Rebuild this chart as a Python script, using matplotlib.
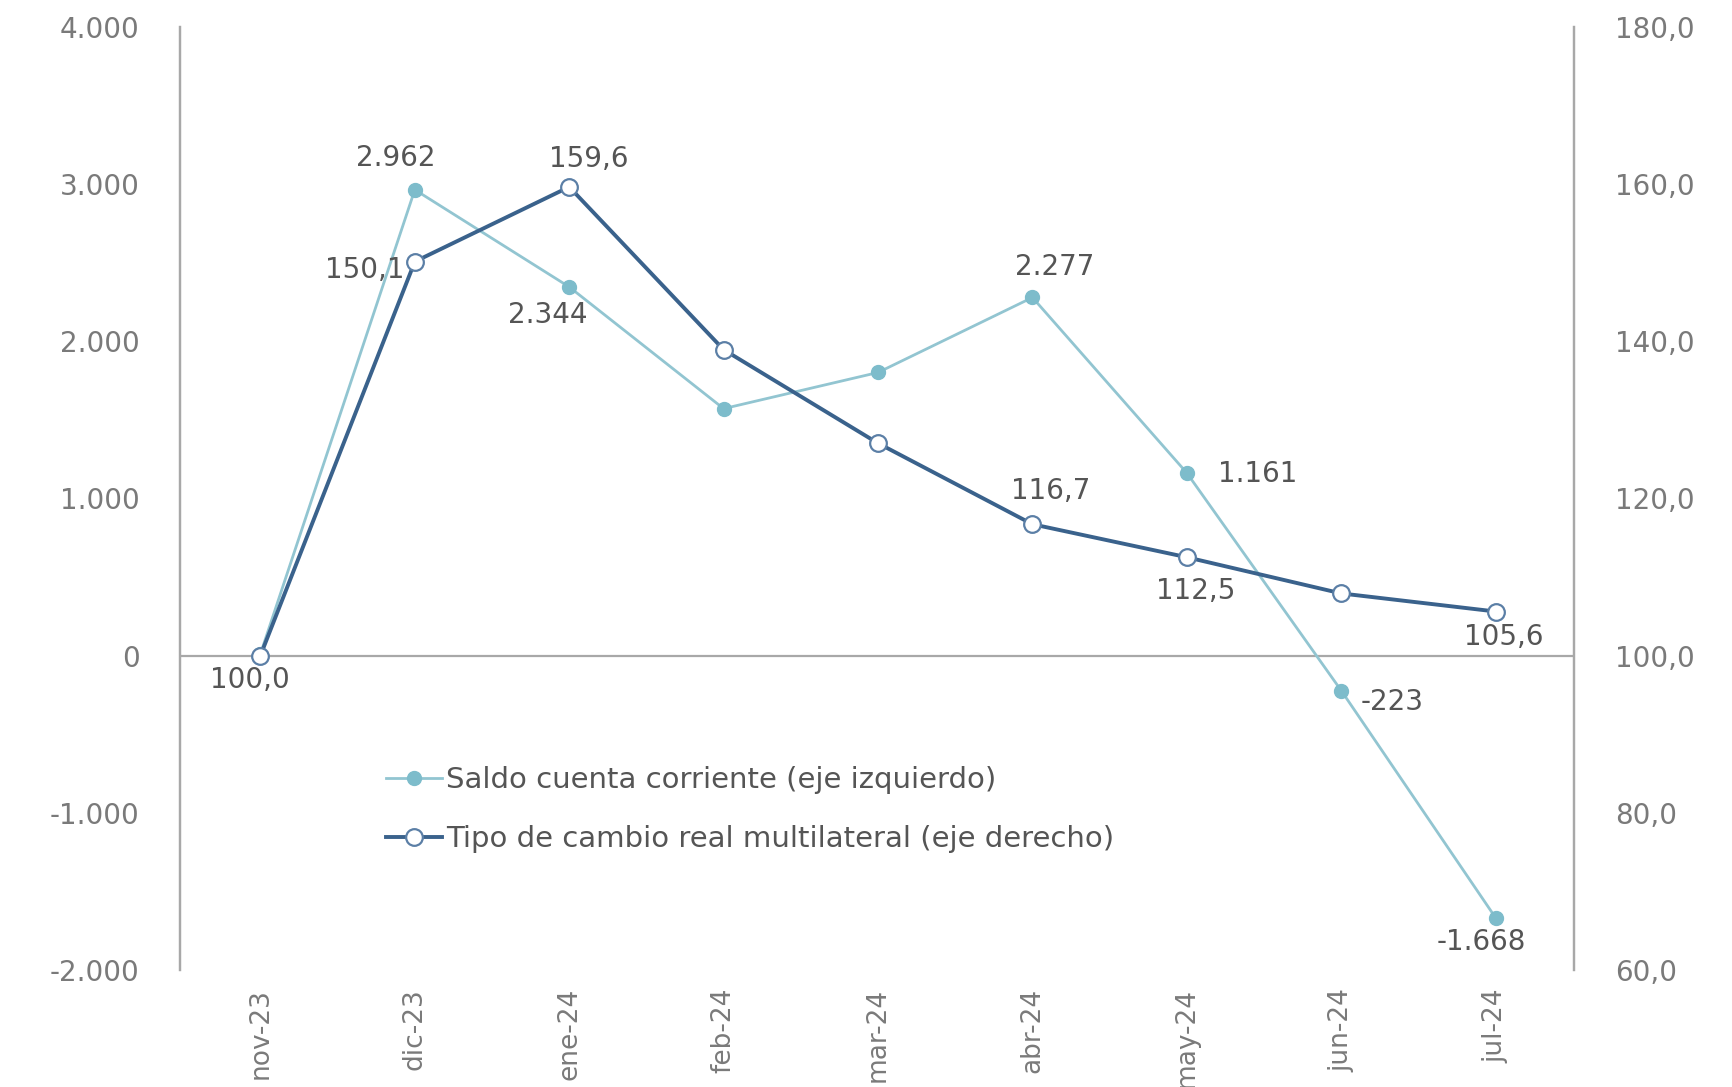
import matplotlib
matplotlib.use("Agg")
import matplotlib.pyplot as plt
from matplotlib.ticker import FuncFormatter, FixedLocator

# ---- data ----
months = ["nov-23", "dic-23", "ene-24", "feb-24", "mar-24", "abr-24", "may-24", "jun-24", "jul-24"]
saldo = [10, 2962, 2344, 1570, 1800, 2277, 1161, -223, -1668]
tcrm = [100.0, 150.1, 159.6, 138.9, 127.0, 116.7, 112.5, 107.9, 105.6]
saldo_label_idx = [1, 2, 5, 6, 7, 8]
tcrm_label_idx = [0, 1, 2, 5, 6, 8]
left_ticks = [-2000, -1000, 0, 1000, 2000, 3000, 4000]
right_ticks = [60, 80, 100, 120, 140, 160, 180]
saldo_name = "Saldo cuenta corriente (eje izquierdo)"
tcrm_name = "Tipo de cambio real multilateral (eje derecho)"

# ---- style ----
plt.rcParams["font.family"] = ["DejaVu Sans"]
FS = 20
TICK_COL = "#7a7a7a"
LAB_COL = "#555555"
AX_COL = "#a8a8a8"
SALDO_LINE = "#92c5d1"
SALDO_MK = "#7dbccb"
TCRM_LINE = "#3a628c"
TCRM_MK_EDGE = "#5b7fa6"

fig = plt.figure(figsize=(17.32, 10.87), dpi=100)
ax = fig.add_axes([0.104, 0.1076, 0.805, 0.868])
ax2 = ax.twinx()

x = list(range(len(months)))

l1, = ax.plot(x, saldo, color=SALDO_LINE, lw=2.0, marker="o", ms=10,
              mfc=SALDO_MK, mec=SALDO_MK, zorder=3, label=saldo_name)
l2, = ax2.plot(x, tcrm, color=TCRM_LINE, lw=2.8, marker="o", ms=12,
               mfc="white", mec=TCRM_MK_EDGE, mew=1.6, zorder=4, label=tcrm_name)

ax.set_xlim(-0.52, len(months) - 0.49)
ax.set_ylim(-2000, 4000)
ax2.set_ylim(60, 180)

ax.yaxis.set_major_locator(FixedLocator(left_ticks))
ax2.yaxis.set_major_locator(FixedLocator(right_ticks))
ax.yaxis.set_major_formatter(FuncFormatter(lambda v, p: f"{v:,.0f}".replace(",", ".")))
ax2.yaxis.set_major_formatter(FuncFormatter(lambda v, p: f"{v:.1f}".replace(".", ",")))

ax.set_xticks(x)
ax.set_xticklabels(months, rotation=90, fontsize=FS - 1, color=TICK_COL)
ax.tick_params(axis="x", length=0, pad=13)
ax.tick_params(axis="y", length=0, pad=29, labelsize=FS, labelcolor=TICK_COL)
ax2.tick_params(axis="y", length=0, pad=29, labelsize=FS, labelcolor=TICK_COL)

for a in (ax, ax2):
    a.spines["top"].set_visible(False)
    a.spines["bottom"].set_visible(False)
    a.spines["left"].set_color(AX_COL)
    a.spines["right"].set_color(AX_COL)
    a.spines["left"].set_linewidth(1.6)
    a.spines["right"].set_linewidth(1.6)
    a.patch.set_visible(False)

ax.axhline(0, color=AX_COL, lw=1.6, zorder=1)

# ---- data labels ----
def fmt_saldo(v):
    return f"{v:,.0f}".replace(",", ".")

def fmt_tcrm(v):
    return f"{v:.1f}".replace(".", ",")

saldo_offsets = {1: (-19, 32, "center"), 2: (-21, -28, "center"), 5: (22, 30, "center"),
                 6: (31, -1, "left"), 7: (19, -11, "left"), 8: (-14, -24, "center")}
tcrm_offsets = {0: (-11, -24, "center"), 1: (-50, -8, "center"), 2: (20, 28, "center"),
                5: (18, 33, "center"), 6: (9, -34, "center"), 8: (8, -25, "center")}

for i in saldo_label_idx:
    dx, dy, ha = saldo_offsets[i]
    ax.annotate(fmt_saldo(saldo[i]), (x[i], saldo[i]), xytext=(dx, dy),
                textcoords="offset pixels", ha=ha, va="center",
                fontsize=FS, color=LAB_COL, zorder=6)
for i in tcrm_label_idx:
    dx, dy, ha = tcrm_offsets[i]
    ax2.annotate(fmt_tcrm(tcrm[i]), (x[i], tcrm[i]), xytext=(dx, dy),
                 textcoords="offset pixels", ha=ha, va="center",
                 fontsize=FS, color=LAB_COL, zorder=6)

# ---- legend ----
leg = ax2.legend(handles=[l1, l2], loc="upper left", bbox_to_anchor=(0.148, 0.216),
                 frameon=False, fontsize=FS + 1, handlelength=1.9, handletextpad=0.15,
                 labelspacing=1.05, borderpad=0, borderaxespad=0)
for t in leg.get_texts():
    t.set_color(LAB_COL)

fig.savefig("out.png", dpi=100)
